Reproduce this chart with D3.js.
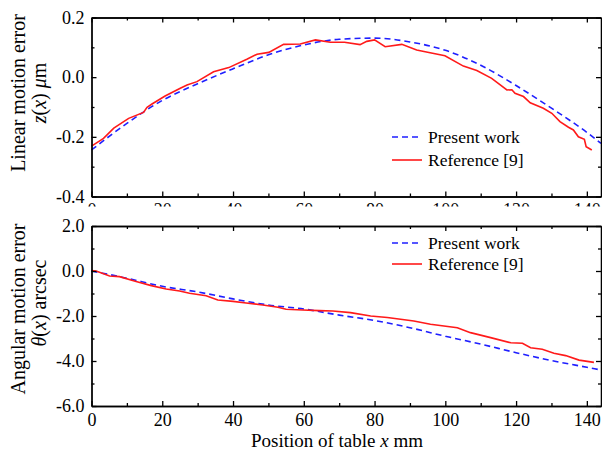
<!DOCTYPE html>
<html>
<head>
<meta charset="utf-8">
<script src="https://cdn.jsdelivr.net/npm/d3@7"></script>
<style>
  body { margin: 0; background: #fff; }
  text { font-family: "Liberation Serif", "Times New Roman", serif; fill: #000; }
</style>
</head>
<body>
<svg id="chart" width="602" height="455"></svg>
<script>
// ticks
var xMajor = [0, 20, 40, 60, 80, 100, 120, 140];
var xMinor = [10, 30, 50, 70, 90, 110, 130];
var linMajor = [-0.4, -0.2, 0.0, 0.2];
var linMinor = [-0.3, -0.1, 0.1];
var angMajor = [-6, -4, -2, 0, 2];
var angMinor = [-5, -3, -1, 1];
var legendLabels = ["Present work", "Reference [9]"];

// linear motion error z(x), um
var linPresentX = [0, 10, 20, 30, 40, 50, 60, 70, 80, 90, 100, 110, 120, 130, 140, 144];
var linPresentY = [-0.244, -0.155, -0.078, -0.022, 0.028, 0.075, 0.108, 0.127, 0.131, 0.118, 0.090, 0.040, -0.028, -0.104, -0.185, -0.222];
var linRefX = [0, 3.4, 6.3, 10.5, 14.7, 15.7, 17.1, 20.8, 25.1, 27, 29.8, 34.5, 38.8, 43.9, 46.8, 50.1, 54.3, 59, 63.3, 67.5, 71.5, 75.9, 77.8, 80, 83, 87.7, 91.9, 95.7, 99.9, 105.1, 108.9, 113.1, 117.4, 118.8, 119.7, 122.1, 124, 127.7, 130.1, 132.4, 134.8, 136.2, 137.6, 139.3, 139.8, 141.4];
var linRefY = [-0.231, -0.205, -0.171, -0.138, -0.118, -0.101, -0.090, -0.063, -0.037, -0.026, -0.015, 0.018, 0.032, 0.060, 0.077, 0.083, 0.110, 0.111, 0.125, 0.117, 0.117, 0.109, 0.120, 0.125, 0.102, 0.110, 0.091, 0.082, 0.072, 0.037, 0.022, -0.004, -0.043, -0.042, -0.054, -0.065, -0.086, -0.104, -0.121, -0.149, -0.168, -0.177, -0.200, -0.208, -0.233, -0.244];

// angular motion error theta(x), arcsec
var angPresentX = [0, 10, 20, 30, 40, 50, 60, 70, 80, 90, 100, 110, 120, 130, 140, 144];
var angPresentY = [0.0, -0.32, -0.68, -0.93, -1.24, -1.51, -1.69, -1.96, -2.20, -2.52, -2.90, -3.25, -3.63, -3.98, -4.28, -4.40];
var angRefX = [0, 1.3, 5.1, 7.9, 12.6, 16.9, 21.1, 24.9, 27.7, 32.4, 35.7, 40, 43.7, 48.4, 52.7, 55, 59.7, 64.4, 68.2, 73.2, 78.9, 83.6, 91.1, 95.8, 103.4, 107.1, 112.8, 118.5, 121.8, 124.1, 127.4, 130.7, 134, 137.8, 142];
var angRefY = [0.02, 0.0, -0.22, -0.25, -0.47, -0.65, -0.80, -0.89, -0.99, -1.10, -1.29, -1.35, -1.42, -1.51, -1.61, -1.70, -1.73, -1.76, -1.78, -1.85, -2.00, -2.07, -2.22, -2.37, -2.52, -2.74, -2.96, -3.19, -3.21, -3.41, -3.48, -3.66, -3.76, -3.96, -4.06];

var serif = "Liberation Serif, Times New Roman, serif";
var blue = "#1f1fff", red = "#ff1a1a";

var svg = d3.select("#chart");

var x = d3.scaleLinear().domain([0, 144]).range([91.5, 601]);
var yLin = d3.scaleLinear().domain([-0.4, 0.2]).range([196.5, 17.5]);
var yAng = d3.scaleLinear().domain([-6, 2]).range([406, 226]);

var fmt1 = function(d) { return d.toFixed(1); };

var styleAxis = function(g) {
  g.attr("font-family", serif).attr("font-size", 18);
  g.selectAll("path, line").attr("stroke", "#000").attr("stroke-width", 1.3);
  g.selectAll("text").attr("fill", "#000");
};

var drawPanel = function(y, yMajor, yMinor) {
  var top = y.range()[1], bot = y.range()[0];
  var xl = x.range()[0], xr = x.range()[1];
  var g = svg.append("g");

  // bottom + minor
  g.append("g").attr("transform", "translate(0," + bot + ")")
    .call(d3.axisBottom(x).tickValues(xMajor).tickSize(-5).tickSizeOuter(0).tickPadding(7).tickFormat(d3.format("d")))
    .call(styleAxis);
  g.append("g").attr("transform", "translate(0," + bot + ")")
    .call(d3.axisBottom(x).tickValues(xMinor).tickSize(-3).tickSizeOuter(0).tickFormat(""))
    .call(styleAxis);
  // top
  g.append("g").attr("transform", "translate(0," + top + ")")
    .call(d3.axisTop(x).tickValues(xMajor).tickSize(-5).tickSizeOuter(0).tickFormat(""))
    .call(styleAxis);
  g.append("g").attr("transform", "translate(0," + top + ")")
    .call(d3.axisTop(x).tickValues(xMinor).tickSize(-3).tickSizeOuter(0).tickFormat(""))
    .call(styleAxis);
  // left
  g.append("g").attr("transform", "translate(" + xl + ",0)")
    .call(d3.axisLeft(y).tickValues(yMajor).tickSize(-5).tickSizeOuter(0).tickPadding(7).tickFormat(fmt1))
    .call(styleAxis);
  g.append("g").attr("transform", "translate(" + xl + ",0)")
    .call(d3.axisLeft(y).tickValues(yMinor).tickSize(-3).tickSizeOuter(0).tickFormat(""))
    .call(styleAxis);
  // right
  g.append("g").attr("transform", "translate(" + xr + ",0)")
    .call(d3.axisRight(y).tickValues(yMajor).tickSize(-5).tickSizeOuter(0).tickFormat(""))
    .call(styleAxis);
  g.append("g").attr("transform", "translate(" + xr + ",0)")
    .call(d3.axisRight(y).tickValues(yMinor).tickSize(-3).tickSizeOuter(0).tickFormat(""))
    .call(styleAxis);
  return g;
}; // end drawPanel

var drawLines = function(y, px, py, rx, ry) {
  var line = d3.line().x(function(d) { return x(d[0]); }).y(function(d) { return y(d[1]); });
  svg.append("path")
    .datum(d3.zip(px, py))
    .attr("fill", "none").attr("stroke", blue).attr("stroke-width", 1.6)
    .attr("stroke-dasharray", "6,4")
    .attr("d", line.curve(d3.curveMonotoneX));
  svg.append("path")
    .datum(d3.zip(rx, ry))
    .attr("fill", "none").attr("stroke", red).attr("stroke-width", 1.6)
    .attr("d", line.curve(d3.curveLinear));
};

var drawLegend = function(yRow1, yRow2) {
  var lg = svg.append("g");
  lg.append("line").attr("x1", 392).attr("x2", 422).attr("y1", yRow1).attr("y2", yRow1)
    .attr("stroke", blue).attr("stroke-width", 1.6).attr("stroke-dasharray", "6,4");
  lg.append("line").attr("x1", 392).attr("x2", 422).attr("y1", yRow2).attr("y2", yRow2)
    .attr("stroke", red).attr("stroke-width", 1.6);
  lg.selectAll("text").data(legendLabels).enter().append("text")
    .attr("x", 428)
    .attr("y", function(d, i) { return (i == 0 ? yRow1 : yRow2) + 6; })
    .attr("font-size", 17.5)
    .text(function(d) { return d; });
};

// ---- top panel (linear) ----
drawLines(yLin, linPresentX, linPresentY, linRefX, linRefY);
drawPanel(yLin, linMajor, linMinor);
drawLegend(137, 160);

// bottom panel sits over the top panel's x labels
svg.append("rect").attr("x", 60).attr("y", 206.5).attr("width", 542).attr("height", 20).attr("fill", "#fff");

// ---- bottom panel (angular) ----
drawLines(yAng, angPresentX, angPresentY, angRefX, angRefY);
drawPanel(yAng, angMajor, angMinor);
drawLegend(243, 264);

// axis titles
svg.append("text").attr("transform", "translate(25,93) rotate(-90)")
  .attr("text-anchor", "middle").attr("font-size", 20).text("Linear motion error");
var t2 = svg.append("text").attr("transform", "translate(46,93) rotate(-90)")
  .attr("text-anchor", "middle").attr("font-size", 20);
t2.append("tspan").attr("font-style", "italic").text("z");
t2.append("tspan").text("(");
t2.append("tspan").attr("font-style", "italic").text("x");
t2.append("tspan").text(") ");
t2.append("tspan").attr("font-style", "italic").text("\u03bc");
t2.append("tspan").text("m");

svg.append("text").attr("transform", "translate(25,309) rotate(-90)")
  .attr("text-anchor", "middle").attr("font-size", 20).text("Angular motion error");
var t4 = svg.append("text").attr("transform", "translate(46,303) rotate(-90)")
  .attr("text-anchor", "middle").attr("font-size", 20);
t4.append("tspan").attr("font-style", "italic").text("\u03b8");
t4.append("tspan").text("(");
t4.append("tspan").attr("font-style", "italic").text("x");
t4.append("tspan").text(") arcsec");

var xt = svg.append("text").attr("x", 337).attr("y", 447)
  .attr("text-anchor", "middle").attr("font-size", 19);
xt.append("tspan").text("Position of table ");
xt.append("tspan").attr("font-style", "italic").text("x");
xt.append("tspan").text(" mm");
</script>
</body>
</html>
